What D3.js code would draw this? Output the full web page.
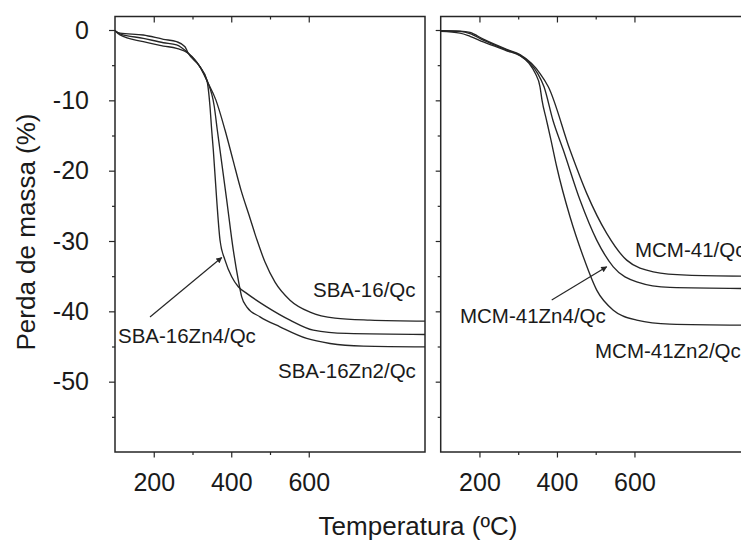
<!DOCTYPE html>
<html>
<head>
<meta charset="utf-8">
<script src="https://cdn.jsdelivr.net/npm/d3@7"></script>
<style>
  html, body { margin: 0; padding: 0; background: #fff; }
  svg { display: block; font-family: "Liberation Sans", Arial, Helvetica, sans-serif; }
</style>
</head>
<body>
<svg id="chart" width="741" height="540"></svg>
<script>
// Axis ticks
const xMajorTicks = [200, 400, 600];
const xMinorTicks = [300, 500];
const yMajorTicks = [0, -10, -20, -30, -40, -50];
const yMinorTicks = [-5, -15, -25, -35, -45, -55];

// Mass loss curves, [temperature (°C), mass loss (%)]
const sba16Qc = [[100,-0.1],[113,-0.55],[173,-1.18],[225,-1.81],[259,-2.13],[289,-3.31],[319,-5.22],[338,-7.3],[360,-9.9],[383.9,-14.22],[404.5,-18.49],[425.2,-22.76],[445.8,-26.31],[466.5,-29.87],[487.1,-33.0],[512.9,-35.85],[551.6,-38.41],[603.2,-40.11],[667.7,-40.97],[758.1,-41.25],[900,-41.4]];
const sba16Zn4Qc = [[100,-0.1],[113,-0.45],[173,-0.71],[225,-1.32],[259,-1.66],[280.6,-2.38],[289,-3.31],[319,-5.22],[337,-7.11],[345.2,-10.91],[349.5,-14.22],[353.7,-17.07],[362.5,-24.18],[371,-29.87],[383.9,-32.72],[401.2,-35.09],[418.2,-36.51],[439.9,-37.45],[491.5,-39.36],[551.6,-41.25],[611.7,-42.67],[697.9,-43.14],[900,-43.29]];
const sba16Zn2Qc = [[100,-0.1],[113,-0.7],[173,-1.66],[225,-2.28],[259,-2.6],[289,-3.31],[319,-5.22],[337,-7.11],[356.3,-10.91],[364,-14.22],[371,-17.07],[388.3,-24.18],[405.3,-31.3],[418.2,-35.56],[427,-37.94],[439.9,-39.36],[474.2,-40.78],[525.8,-42.2],[594.7,-43.85],[654.8,-44.57],[740.8,-44.95],[900,-45.05]];

const mcm41Qc = [[100,-0.1],[150,-0.15],[175.6,-0.35],[209.9,-1.3],[270.3,-2.75],[304.6,-3.5],[334,-4.74],[356,-6.16],[377.7,-8.07],[433.7,-17.07],[476.8,-23.23],[528.4,-28.92],[580,-32.72],[648.6,-34.38],[734.8,-34.85],[900,-35.0]];
const mcm41Zn4Qc = [[100,-0.1],[150,-0.2],[175.6,-0.5],[209.9,-1.45],[270.3,-2.85],[304.6,-3.6],[331,-4.74],[350,-6.16],[366.6,-8.07],[390,-12.9],[416.4,-17.07],[459.5,-24.18],[502.6,-29.87],[545.4,-33.67],[605.8,-35.8],[691.7,-36.6],[900,-36.76]];
const mcm41Zn2Qc = [[100,-0.2],[150,-0.45],[175.6,-0.9],[209.9,-1.7],[270.3,-2.95],[304.6,-3.65],[328,-4.74],[344,-6.16],[356.3,-8.07],[361.4,-9.96],[373,-12.8],[384.6,-15.65],[399.4,-19.44],[433.7,-26.56],[468,-32.25],[502.6,-36.98],[545.4,-39.83],[605.8,-41.25],[691.7,-41.82],[900,-41.98]];

const leftSeries = [sba16Qc, sba16Zn4Qc, sba16Zn2Qc];
const rightSeries = [mcm41Qc, mcm41Zn4Qc, mcm41Zn2Qc];

const svg = d3.select("#chart");
const ink = "#262626";

const xLeft = d3.scaleLinear().domain([100, 900]).range([115, 425]);
const xRight = d3.scaleLinear().domain([100, 900]).range([440.7, 750.7]);
const y = d3.scaleLinear().domain([-60, 1.92]).range([452, 16.5]);

// arrowhead marker
svg.append("defs").append("marker")
  .attr("id", "arrow")
  .attr("viewBox", "0 0 10 10")
  .attr("refX", 9).attr("refY", 5)
  .attr("markerWidth", 7).attr("markerHeight", 6)
  .attr("markerUnits", "userSpaceOnUse")
  .attr("orient", "auto")
  .append("path").attr("d", "M0,0L10,5L0,10Z").attr("fill", ink);

function styleAxis(g) {
  g.select(".domain").remove();
  g.selectAll(".tick line").attr("stroke", ink).attr("stroke-width", 1.2);
  g.selectAll(".tick text").attr("fill", "#1a1a1a").attr("font-size", 25)
    .attr("font-family", "'Liberation Sans', Arial, sans-serif");
}

function drawPanel(x, series, showY, clipId) {
  const [x0, x1] = x.range();
  const [yb, yt] = y.range();

  svg.append("clipPath").attr("id", clipId)
    .append("rect").attr("x", x0).attr("y", yt).attr("width", x1 - x0).attr("height", yb - yt);

  // bottom axis (outward ticks)
  svg.append("g").attr("transform", `translate(0,${yb})`)
    .call(d3.axisBottom(x).tickValues(xMajorTicks).tickSize(5.5).tickPadding(16).tickFormat(d => String(d)))
    .call(styleAxis);
  svg.append("g").attr("transform", `translate(0,${yb})`)
    .call(d3.axisBottom(x).tickValues(xMinorTicks).tickSize(3).tickFormat(""))
    .call(styleAxis);
  // top ticks (inward)
  svg.append("g").attr("transform", `translate(0,${yt})`)
    .call(d3.axisBottom(x).tickValues(xMajorTicks).tickSize(6).tickFormat(""))
    .call(styleAxis);
  svg.append("g").attr("transform", `translate(0,${yt})`)
    .call(d3.axisBottom(x).tickValues(xMinorTicks).tickSize(3).tickFormat(""))
    .call(styleAxis);
  // left axis (outward ticks)
  svg.append("g").attr("transform", `translate(${x0},0)`)
    .call(d3.axisLeft(y).tickValues(yMajorTicks).tickSize(showY ? 6 : 5).tickPadding(20)
      .tickFormat(showY ? (d => String(d)) : ""))
    .call(styleAxis);
  svg.append("g").attr("transform", `translate(${x0},0)`)
    .call(d3.axisLeft(y).tickValues(yMinorTicks).tickSize(3).tickFormat(""))
    .call(styleAxis);

  // frame
  svg.append("rect")
    .attr("x", x0).attr("y", yt).attr("width", x1 - x0).attr("height", yb - yt)
    .attr("fill", "none").attr("stroke", ink).attr("stroke-width", 1.5);

  const line = d3.line().x(d => x(d[0])).y(d => y(d[1])).curve(d3.curveMonotoneX);
  svg.append("g").attr("clip-path", `url(#${clipId})`)
    .selectAll("path").data(series).join("path")
    .attr("d", line)
    .attr("fill", "none").attr("stroke", ink).attr("stroke-width", 1.35)
    .attr("stroke-linejoin", "round");
}

drawPanel(xLeft, leftSeries, true, "clipLeft");
drawPanel(xRight, rightSeries, false, "clipRight");

// series labels and arrows (temperature, mass loss)
const labelFont = 20.5;
const leftLabels = [
  { text: "SBA-16/Qc", t: 611, v: -37.98 },
  { text: "SBA-16Zn2/Qc", t: 520.6, v: -49.5 },
  { text: "SBA-16Zn4/Qc", t: 107.7, v: -44.52 }
];
const rightLabels = [
  { text: "MCM-41/Qc", t: 601.4, v: -32.29 },
  { text: "MCM-41Zn4/Qc", t: 149.8, v: -41.68 },
  { text: "MCM-41Zn2/Qc", t: 498.2, v: -46.66 }
];
svg.append("g").selectAll("text").data(leftLabels).join("text")
  .attr("x", d => xLeft(d.t)).attr("y", d => y(d.v))
  .attr("font-size", labelFont).attr("fill", "#1a1a1a").text(d => d.text);
svg.append("g").selectAll("text").data(rightLabels).join("text")
  .attr("x", d => xRight(d.t)).attr("y", d => y(d.v))
  .attr("font-size", labelFont).attr("fill", "#1a1a1a").text(d => d.text);

const arrows = [
  { x: xLeft, from: [190.3, -40.8], to: [375.4, -32.35] },
  { x: xRight, from: [386.5, -38.4], to: [528.4, -33.67] }
];
svg.append("g").selectAll("line").data(arrows).join("line")
  .attr("x1", d => d.x(d.from[0])).attr("y1", d => y(d.from[1]))
  .attr("x2", d => d.x(d.to[0])).attr("y2", d => y(d.to[1]))
  .attr("stroke", ink).attr("stroke-width", 1.2)
  .attr("marker-end", "url(#arrow)");

// axis titles
svg.append("text")
  .attr("x", 418).attr("y", 535)
  .attr("text-anchor", "middle").attr("font-size", 26).attr("fill", "#1a1a1a")
  .text("Temperatura  (ºC)");
svg.append("text")
  .attr("transform", "translate(35,232) rotate(-90)")
  .attr("text-anchor", "middle").attr("font-size", 26).attr("fill", "#1a1a1a")
  .text("Perda de massa (%)");
</script>
</body>
</html>
